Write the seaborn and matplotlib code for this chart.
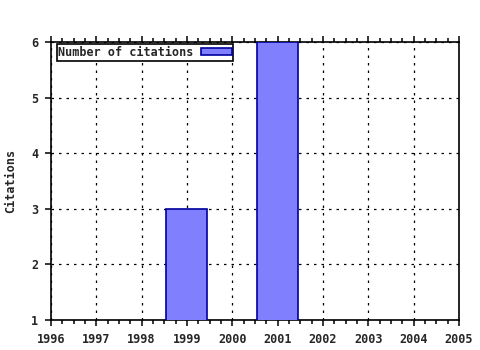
import matplotlib
matplotlib.use("Agg")
import matplotlib.pyplot as plt
import seaborn as sns
import pandas as pd
from matplotlib.ticker import AutoMinorLocator

years = [1999, 2001]
citations = [3, 6]
xticks = list(range(1996, 2006))
yticks = [1, 2, 3, 4, 5, 6]
series_label = "Number of citations"

sns.set_style("ticks")
plt.rcParams['font.family'] = ['DejaVu Sans Mono']
plt.rcParams['font.weight'] = 'bold'

fig = plt.figure(figsize=(4.8, 3.5), dpi=100)
ax = fig.add_axes([0.106, 0.0857, 0.85, 0.794])

df = pd.DataFrame({"year": years, "citations": citations})
sns.barplot(data=df, x="year", y="citations", native_scale=True, width=0.45,
            color="#8080ff", saturation=1, edgecolor="#0000a0", linewidth=1.2,
            label=series_label, ax=ax, zorder=3)

ax.set_xlim(1996, 2005)
ax.set_ylim(1, 6)
ax.set_xticks(xticks)
ax.set_xticklabels([str(t) for t in xticks])
ax.set_yticks(yticks)
ax.xaxis.set_minor_locator(AutoMinorLocator(4))
ax.xaxis.set_ticks_position('both')
ax.grid(True, which='major', linestyle=(0, (2, 4)), color='black', linewidth=0.9, zorder=1)
ax.set_axisbelow(True)
ax.tick_params(axis='x', which='both', direction='out', top=True, bottom=True,
               labelbottom=True, labeltop=False,
               labelsize=8.5, pad=5, color='black', width=1.1)
ax.tick_params(axis='x', which='major', length=4)
ax.tick_params(axis='x', which='minor', length=3)
ax.tick_params(axis='y', which='major', direction='out', left=True, right=False,
               length=4, labelsize=8.5, pad=5, color='black', width=1.1)
ax.tick_params(axis='y', which='minor', left=False, right=False)
for lab in ax.get_xticklabels() + ax.get_yticklabels():
    lab.set_fontweight('bold')
for s in ax.spines.values():
    s.set_visible(True)
    s.set_color('black')
    s.set_linewidth(1.2)
ax.set_xlabel("")
ax.set_ylabel("Citations", fontsize=8.5, fontweight='bold', labelpad=10)

leg = ax.legend(loc='upper left', markerfirst=False, fancybox=False, framealpha=1,
                edgecolor='black', prop={'size': 8.5, 'weight': 'bold'},
                borderpad=0.15, handlelength=2.6, handleheight=0.55, handletextpad=0.6,
                bbox_to_anchor=(0.014, 0.992), borderaxespad=0)
leg.get_frame().set_linewidth(1.2)

fig.savefig("out.png", dpi=100)
